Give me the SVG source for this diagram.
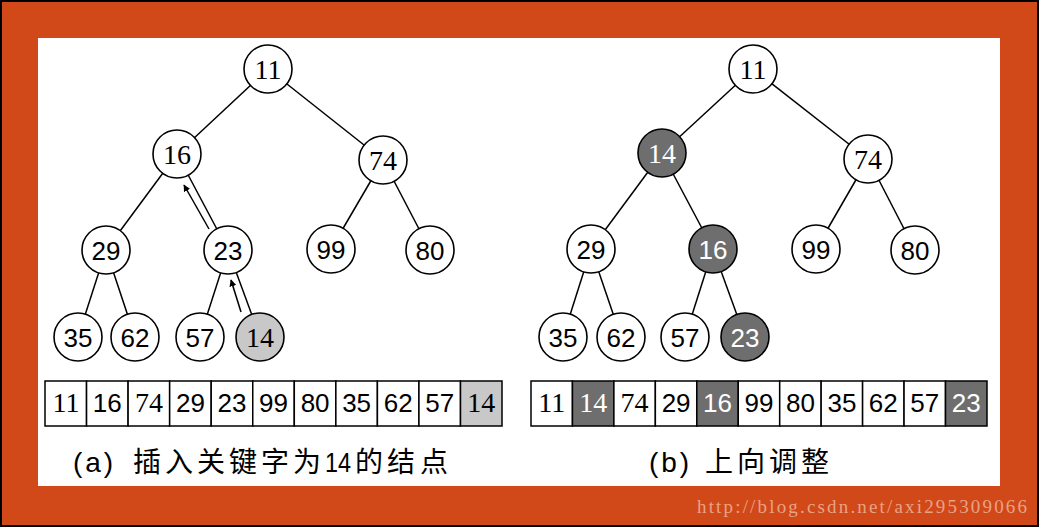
<svg xmlns="http://www.w3.org/2000/svg" width="1039" height="527" viewBox="0 0 1039 527">
<style>
.nd{fill:#fff;stroke:#000;stroke-width:1.6}
.cell{fill:#fff;stroke:#000;stroke-width:1.5}
.dk{fill:#6e6e6e}
.lt{fill:#c8c8c8}
.t{font-family:"Liberation Sans",sans-serif;font-size:26px;text-anchor:middle;fill:#000}
.s{font-family:"Liberation Serif",serif;font-size:28px}
.w{fill:#fff}
.e{stroke:#000;stroke-width:1.5;fill:none}
.cap{font-family:"Liberation Sans","Noto Sans CJK SC",sans-serif;font-size:28px;fill:#000}
</style>
<defs>
<marker id="ah" viewBox="0 0 10 10" refX="9" refY="5" markerWidth="7" markerHeight="7" orient="auto" markerUnits="userSpaceOnUse">
<path d="M0,0 L10,5 L0,10 Z" fill="#000"/>
</marker>
</defs>
<rect x="0" y="0" width="1039" height="527" fill="#000"/>
<rect x="2" y="2" width="1035" height="523" fill="#d14919"/>
<rect x="38" y="38" width="962" height="448" fill="#fff"/>

<g id="connectors">
<line class="e" x1="268" y1="69" x2="177" y2="154"/>
<line class="e" x1="268" y1="69" x2="383" y2="160"/>
<line class="e" x1="177" y1="154" x2="106" y2="250"/>
<line class="e" x1="177" y1="154" x2="228" y2="250"/>
<line class="e" x1="383" y1="160" x2="331" y2="249"/>
<line class="e" x1="383" y1="160" x2="430" y2="250"/>
<line class="e" x1="106" y1="250" x2="78" y2="337"/>
<line class="e" x1="106" y1="250" x2="135" y2="337"/>
<line class="e" x1="228" y1="250" x2="200" y2="337"/>
<line class="e" x1="228" y1="250" x2="260" y2="337"/>
<line class="e" x1="209" y1="229" x2="184" y2="185" marker-end="url(#ah)"/>
<line class="e" x1="241" y1="312" x2="231" y2="280" marker-end="url(#ah)"/>
<line class="e" x1="753" y1="69" x2="662" y2="153"/>
<line class="e" x1="753" y1="69" x2="868" y2="159"/>
<line class="e" x1="662" y1="153" x2="591" y2="249"/>
<line class="e" x1="662" y1="153" x2="713" y2="249"/>
<line class="e" x1="868" y1="159" x2="816" y2="249"/>
<line class="e" x1="868" y1="159" x2="915" y2="250"/>
<line class="e" x1="591" y1="249" x2="563" y2="337"/>
<line class="e" x1="591" y1="249" x2="621" y2="337"/>
<line class="e" x1="713" y1="249" x2="685" y2="337"/>
<line class="e" x1="713" y1="249" x2="745" y2="337"/>
</g>

<g id="a-n11"><circle class="nd" cx="268" cy="69" r="24"/><text class="t s" x="268" y="79">11</text></g>
<g id="a-n16"><circle class="nd" cx="177" cy="154" r="24"/><text class="t s" x="177" y="164">16</text></g>
<g id="a-n74"><circle class="nd" cx="383" cy="160" r="24"/><text class="t s" x="383" y="170">74</text></g>
<g id="a-n29"><circle class="nd" cx="106" cy="250" r="24"/><text class="t" x="106" y="260">29</text></g>
<g id="a-n23"><circle class="nd" cx="228" cy="250" r="24"/><text class="t" x="228" y="260">23</text></g>
<g id="a-n99"><circle class="nd" cx="331" cy="249" r="24"/><text class="t" x="331" y="259">99</text></g>
<g id="a-n80"><circle class="nd" cx="430" cy="250" r="24"/><text class="t" x="430" y="260">80</text></g>
<g id="a-n35"><circle class="nd" cx="78" cy="337" r="24"/><text class="t" x="78" y="347">35</text></g>
<g id="a-n62"><circle class="nd" cx="135" cy="337" r="24"/><text class="t" x="135" y="347">62</text></g>
<g id="a-n57"><circle class="nd" cx="200" cy="337" r="24"/><text class="t" x="200" y="347">57</text></g>
<g id="a-n14"><circle class="nd lt" cx="260" cy="337" r="24"/><text class="t s" x="260" y="347">14</text></g>

<g id="a-array">
<rect class="cell" x="45" y="381" width="41.55" height="45"/><text class="t s" x="66" y="412">11</text>
<rect class="cell" x="86.55" y="381" width="41.55" height="45"/><text class="t" x="107.3" y="412">16</text>
<rect class="cell" x="128.1" y="381" width="41.55" height="45"/><text class="t s" x="148.9" y="412">74</text>
<rect class="cell" x="169.65" y="381" width="41.55" height="45"/><text class="t" x="190.4" y="412">29</text>
<rect class="cell" x="211.2" y="381" width="41.55" height="45"/><text class="t" x="232" y="412">23</text>
<rect class="cell" x="252.75" y="381" width="41.55" height="45"/><text class="t" x="273.5" y="412">99</text>
<rect class="cell" x="294.3" y="381" width="41.55" height="45"/><text class="t" x="315.1" y="412">80</text>
<rect class="cell" x="335.85" y="381" width="41.55" height="45"/><text class="t" x="356.6" y="412">35</text>
<rect class="cell" x="377.4" y="381" width="41.55" height="45"/><text class="t" x="398.2" y="412">62</text>
<rect class="cell" x="418.95" y="381" width="41.55" height="45"/><text class="t" x="439.7" y="412">57</text>
<rect class="cell lt" x="460.5" y="381" width="41.5" height="45"/><text class="t s" x="481.3" y="412">14</text>
</g>
<g id="a-caption"><text class="cap" y="472"><tspan x="73" textLength="40" lengthAdjust="spacing">(a)</tspan><tspan x="133 165 197 229 261 293">插入关键字为</tspan><tspan x="325" textLength="26" lengthAdjust="spacingAndGlyphs">14</tspan><tspan x="355 387 420">的结点</tspan></text></g>

<g id="b-n11"><circle class="nd" cx="753" cy="69" r="24"/><text class="t s" x="753" y="79">11</text></g>
<g id="b-n14"><circle class="nd dk" cx="662" cy="153" r="24"/><text class="t s w" x="662" y="163">14</text></g>
<g id="b-n74"><circle class="nd" cx="868" cy="159" r="24"/><text class="t s" x="868" y="169">74</text></g>
<g id="b-n29"><circle class="nd" cx="591" cy="249" r="24"/><text class="t" x="591" y="259">29</text></g>
<g id="b-n16"><circle class="nd dk" cx="713" cy="249" r="24"/><text class="t w" x="713" y="259">16</text></g>
<g id="b-n99"><circle class="nd" cx="816" cy="249" r="24"/><text class="t" x="816" y="259">99</text></g>
<g id="b-n80"><circle class="nd" cx="915" cy="250" r="24"/><text class="t" x="915" y="260">80</text></g>
<g id="b-n35"><circle class="nd" cx="563" cy="337" r="24"/><text class="t" x="563" y="347">35</text></g>
<g id="b-n62"><circle class="nd" cx="621" cy="337" r="24"/><text class="t" x="621" y="347">62</text></g>
<g id="b-n57"><circle class="nd" cx="685" cy="337" r="24"/><text class="t" x="685" y="347">57</text></g>
<g id="b-n23"><circle class="nd dk" cx="745" cy="337" r="24"/><text class="t w" x="745" y="347">23</text></g>

<g id="b-array">
<rect class="cell" x="531" y="381" width="41.45" height="45"/><text class="t s" x="551.7" y="412">11</text>
<rect class="cell dk" x="572.45" y="381" width="41.45" height="45"/><text class="t s w" x="593.2" y="412">14</text>
<rect class="cell" x="613.9" y="381" width="41.45" height="45"/><text class="t s" x="634.6" y="412">74</text>
<rect class="cell" x="655.35" y="381" width="41.45" height="45"/><text class="t" x="676.1" y="412">29</text>
<rect class="cell dk" x="696.8" y="381" width="41.45" height="45"/><text class="t w" x="717.5" y="412">16</text>
<rect class="cell" x="738.25" y="381" width="41.45" height="45"/><text class="t" x="759" y="412">99</text>
<rect class="cell" x="779.7" y="381" width="41.45" height="45"/><text class="t" x="800.4" y="412">80</text>
<rect class="cell" x="821.15" y="381" width="41.45" height="45"/><text class="t" x="841.9" y="412">35</text>
<rect class="cell" x="862.6" y="381" width="41.45" height="45"/><text class="t" x="883.3" y="412">62</text>
<rect class="cell" x="904.05" y="381" width="41.45" height="45"/><text class="t" x="924.8" y="412">57</text>
<rect class="cell dk" x="945.5" y="381" width="41.5" height="45"/><text class="t w" x="966.2" y="412">23</text>
</g>
<g id="b-caption"><text class="cap" y="472"><tspan x="649" textLength="40" lengthAdjust="spacing">(b)</tspan><tspan x="705 737 769 801">上向调整</tspan></text></g>

<text x="697" y="513" font-family="Liberation Serif,serif" font-size="19" fill="#e8a284" textLength="330" lengthAdjust="spacing">http://blog.csdn.net/axi295309066</text>
</svg>
